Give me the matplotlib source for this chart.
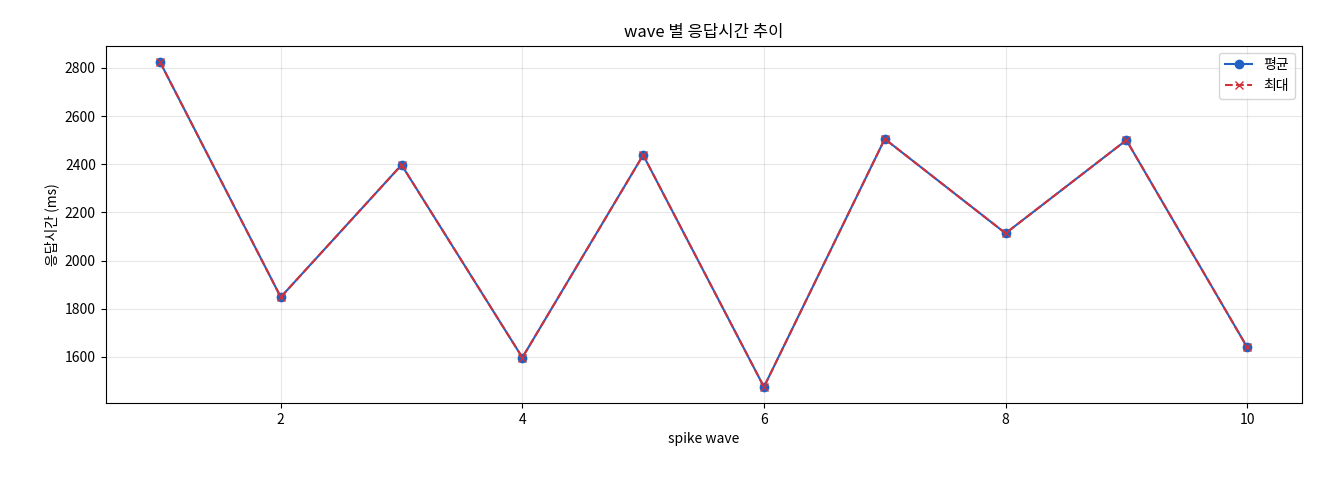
import matplotlib
matplotlib.use("Agg")
import matplotlib.pyplot as plt

plt.rcParams['font.family'] = ['Noto Sans CJK KR', 'DejaVu Sans']
plt.rcParams['axes.unicode_minus'] = False

waves = [1, 2, 3, 4, 5, 6, 7, 8, 9, 10]
avg_ms = [2825, 1848, 2397, 1597, 2438, 1475, 2505, 2113, 2500, 1640]
max_ms = [2825, 1848, 2397, 1597, 2438, 1475, 2505, 2113, 2500, 1640]

fig, ax = plt.subplots(figsize=(13.2, 4.8), dpi=100)
ax.plot(waves, avg_ms, marker='o', color='#1f62c4', label='평균', markersize=6)
ax.plot(waves, max_ms, marker='x', linestyle='--', color='#d0313a', label='최대', markersize=6)

ax.set_title('wave 별 응답시간 추이')
ax.set_xlabel('spike wave')
ax.set_ylabel('응답시간 (ms)')
ax.grid(True, alpha=0.3)
ax.legend(loc='upper right')

fig.subplots_adjust(left=0.08, right=0.986, top=0.905, bottom=0.16)
fig.savefig('out.png')
